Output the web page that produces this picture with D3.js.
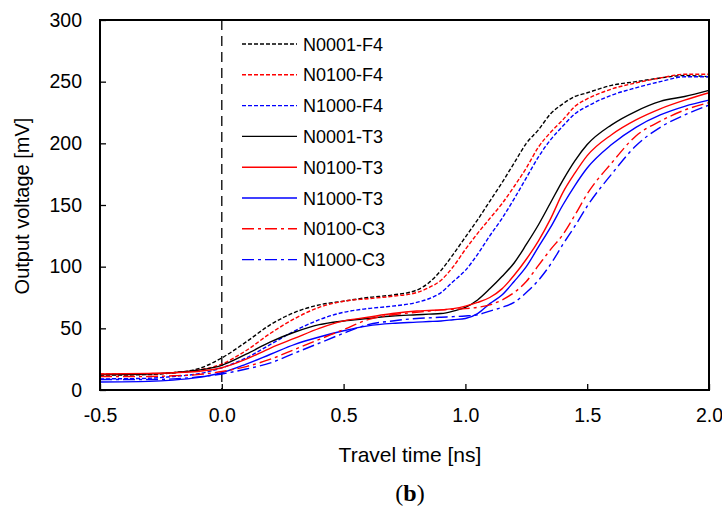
<!DOCTYPE html>
<html lang="en">
<head>
    <meta charset="UTF-8">
    <title>Output voltage vs travel time</title>
    <script src="https://d3js.org/d3.v7.min.js"></script>
    <style>
        body { margin: 0; padding: 0; background: #fff; }
        svg { display: block; font-family: "Liberation Sans", Arial, sans-serif; }
    </style>
</head>
<body>
<svg id="chart" width="722" height="513"></svg>

<script>
    // time grid [ns] shared by all series
    const times = [-0.5, -0.3, -0.2, -0.1, 0, 0.1, 0.2, 0.3, 0.4, 0.5, 0.6, 0.7, 0.8, 0.85, 0.9, 0.95,
        1.0, 1.05, 1.1, 1.15, 1.2, 1.25, 1.3, 1.35, 1.4, 1.45, 1.5, 1.6, 1.7, 1.8, 1.9, 2.0];

    // output voltage [mV]
    const n0001F4 = [12, 12.5, 14, 17, 26, 39, 53, 63, 69, 72, 75, 77, 81, 87, 97, 110,
        124, 138, 153, 168, 184, 200, 211, 224, 232, 238, 241, 247, 250, 253, 255, 254];
    const n0100F4 = [13, 13, 14, 16, 21, 32, 46, 58, 67, 72, 74, 76, 79, 83, 89, 100,
        114, 127, 139, 151, 165, 180, 197, 209, 219, 230, 236, 244, 249, 253, 256, 256];
    const n1000F4 = [9, 9.5, 11, 13, 18, 26, 37, 48, 57, 63, 66, 68, 71, 74, 79, 88,
        97, 110, 125, 139, 155, 172, 189, 203, 214, 224, 230, 239, 245, 250, 254, 254];
    const n0001T3 = [12.5, 13, 14, 16, 20, 29, 39, 47, 53, 56, 58, 60, 61, 61.5, 62, 64,
        67, 73, 82, 92, 103, 118, 134, 152, 170, 186, 199, 215, 226, 234, 238, 243];
    const n0100T3 = [13, 13.5, 14, 15, 18, 25, 34, 42, 50, 56, 59, 62, 64, 64.5, 65, 66,
        68, 71, 75, 82, 93, 106, 121, 139, 160, 176, 190, 207, 219, 228, 235, 241];
    const n1000T3 = [6.5, 7, 8, 10, 14, 21, 29, 37, 43, 48, 52, 54, 55, 55.5, 56, 57,
        58, 62, 70, 77, 88, 100, 116, 132, 150, 166, 180, 199, 213, 223, 230, 235];
    const n0100C3 = [11, 11, 11.5, 12.5, 15, 19, 25, 33, 41, 49, 57, 61, 63, 64, 65, 65.5,
        66, 67, 69, 73, 79, 88, 101, 114, 126, 142, 159, 184, 206, 218, 227, 233];
    const n1000C3 = [8.5, 8.5, 9, 10.5, 13, 17, 22, 30, 38, 46, 53, 56, 58, 58.5, 59, 59.5,
        60, 61, 64, 67, 71, 79, 89, 102, 118, 133, 149, 175, 198, 213, 223, 231];

    const seriesNames = ["N0001-F4", "N0100-F4", "N1000-F4", "N0001-T3", "N0100-T3", "N1000-T3", "N0100-C3", "N1000-C3"];
    const seriesValues = [n0001F4, n0100F4, n1000F4, n0001T3, n0100T3, n1000T3, n0100C3, n1000C3];
    const seriesColors = ["#000", "#ff0000", "#0000ff", "#000", "#ff0000", "#0000ff", "#ff0000", "#0000ff"];
    const seriesDash = ["4,2", "4,2", "4,2", null, null, null, "12,4,3,4", "12,4,3,4"];

    const xTicks = [-0.5, 0, 0.5, 1.0, 1.5, 2.0];
    const yTicks = [0, 50, 100, 150, 200, 250, 300];

    const svg = d3.select("#chart");
    const margin = { top: 20, right: 13, bottom: 123, left: 100 },
        width = 722 - margin.left - margin.right,
        height = 513 - margin.top - margin.bottom;

    const x = d3.scaleLinear().domain([-0.5, 2.0]).range([0, width]);
    const y = d3.scaleLinear().domain([0, 300]).range([height, 0]);

    const g = svg.append("g").attr("transform", `translate(${margin.left},${margin.top})`);

    // dashed line at t = 0
    g.append("line")
        .attr("x1", x(0)).attr("x2", x(0))
        .attr("y1", 0).attr("y2", height)
        .attr("stroke", "#000")
        .attr("stroke-width", 1.3)
        .attr("stroke-dasharray", "10,6");

    // curves
    const line = d3.line()
        .x((d, i) => x(times[i]))
        .y(d => y(d))
        .curve(d3.curveMonotoneX);

    seriesValues.forEach((vals, k) => {
        g.append("path")
            .datum(vals)
            .attr("fill", "none")
            .attr("stroke", seriesColors[k])
            .attr("stroke-width", 1.4)
            .attr("stroke-dasharray", seriesDash[k])
            .attr("d", line);
    });

    // axes, ticks pointing inward
    const fmt = d => d.toFixed(1);   // plain hyphen for -0.5

    g.append("g")
        .attr("transform", `translate(0,${height})`)
        .call(d3.axisBottom(x).tickValues(xTicks).tickFormat(fmt).tickSizeInner(-6).tickSizeOuter(0).tickPadding(18))
        .call(a => a.select(".domain").remove())
        .selectAll("text").attr("font-size", 19.5).attr("fill", "#000");

    g.append("g")
        .call(d3.axisLeft(y).tickValues(yTicks).tickSizeInner(-6).tickSizeOuter(0).tickPadding(18))
        .call(a => a.select(".domain").remove())
        .selectAll("text").attr("font-size", 19.5).attr("fill", "#000");

    g.selectAll(".tick line").attr("stroke", "#000").attr("stroke-width", 1.3);

    // plot frame
    g.append("rect")
        .attr("width", width).attr("height", height)
        .attr("fill", "none")
        .attr("stroke", "#000")
        .attr("stroke-width", 2);

    // legend
    const legend = g.append("g").attr("transform", "translate(142,24)");
    seriesNames.forEach((name, k) => {
        const row = legend.append("g").attr("transform", `translate(0,${k * 30.8})`);
        row.append("line")
            .attr("x1", 0).attr("x2", 55)
            .attr("stroke", seriesColors[k])
            .attr("stroke-width", 1.4)
            .attr("stroke-dasharray", seriesDash[k]);
        row.append("text")
            .attr("x", 61).attr("y", 6.5)
            .attr("font-size", 18)
            .text(name);
    });

    // axis titles
    svg.append("text")
        .attr("transform", "translate(29,206) rotate(-90)")
        .attr("text-anchor", "middle")
        .attr("font-size", 20)
        .text("Output voltage [mV]");

    svg.append("text")
        .attr("x", 410).attr("y", 462)
        .attr("text-anchor", "middle")
        .attr("font-size", 21)
        .text("Travel time [ns]");

    svg.append("text")
        .attr("x", 410).attr("y", 501)
        .attr("text-anchor", "middle")
        .attr("font-size", 24)
        .style("font-family", "'Liberation Serif', serif")
        .html("(<tspan font-weight='bold'>b</tspan>)");
</script>
</body>
</html>
